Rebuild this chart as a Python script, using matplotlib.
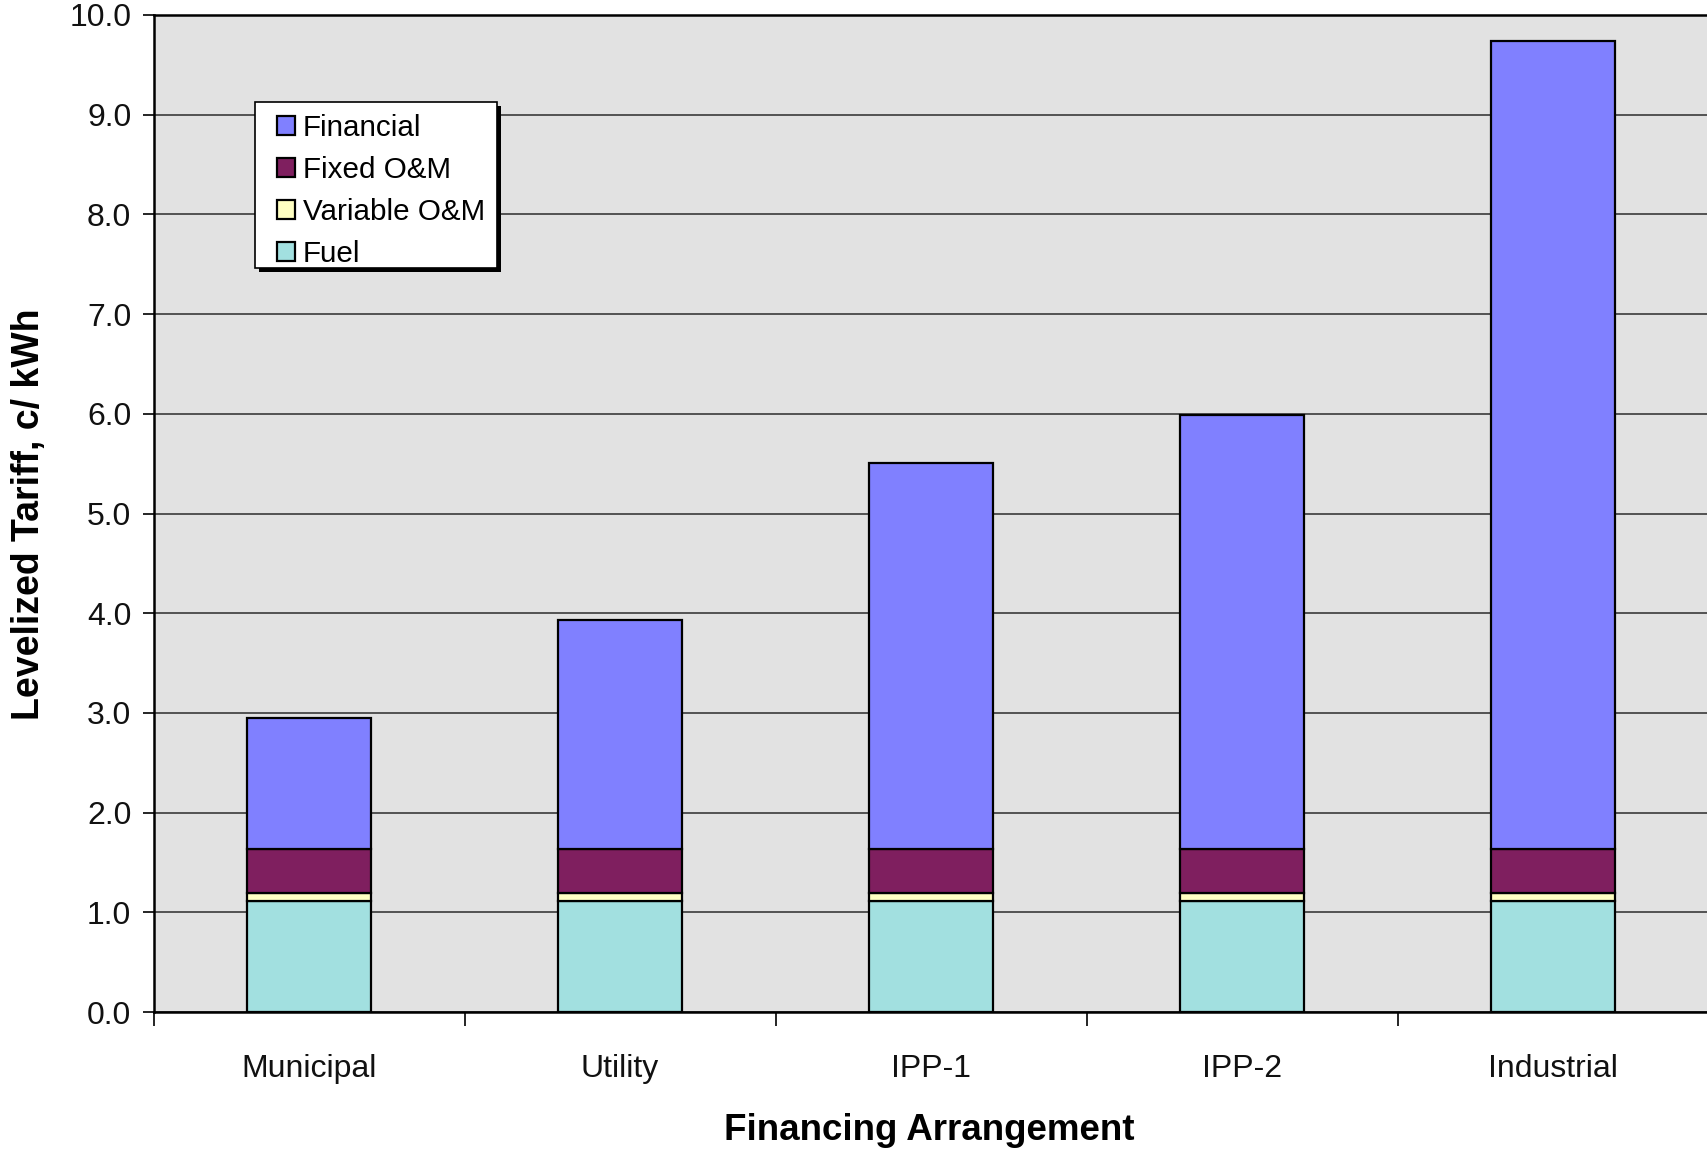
import matplotlib
matplotlib.use("Agg")
import matplotlib.pyplot as plt
from matplotlib.patches import Rectangle
import numpy as np

plt.rcParams['font.family'] = ['Liberation Sans', 'DejaVu Sans']

categories = ["Municipal", "Utility", "IPP-1", "IPP-2", "Industrial"]
fuel = [1.11, 1.11, 1.11, 1.11, 1.11]
variable_om = [0.08, 0.08, 0.08, 0.08, 0.08]
fixed_om = [0.44, 0.44, 0.44, 0.44, 0.44]
financial = [1.32, 2.30, 3.88, 4.36, 8.11]

series = [
    ("Fuel", fuel, "#A2E0E0"),
    ("Variable O&M", variable_om, "#FFFFC2"),
    ("Fixed O&M", fixed_om, "#7F1F5F"),
    ("Financial", financial, "#8080FF"),
]

W, H = 1707, 1154
fig = plt.figure(figsize=(W / 100, H / 100), dpi=100)
ax = fig.add_axes([153.5 / W, 1 - 1012 / H, (1708.5 - 153.5) / W, (1012 - 15) / H])
ax.set_facecolor("#E2E2E2")

x = np.arange(len(categories)) + 0.5
bottom = np.zeros(len(categories))
handles = []
for name, vals, color in series:
    bars = ax.bar(x, vals, width=0.40, bottom=bottom, color=color,
                  edgecolor="black", linewidth=1.6, label=name, zorder=3)
    handles.append(bars)
    bottom += np.array(vals)

ax.set_xlim(0, len(categories))
ax.set_ylim(0, 10)
yt = np.arange(0, 10.01, 1.0)
ax.set_yticks(yt)
ax.set_yticklabels([f"{v:.1f}" for v in yt], fontsize=23, color="#111111")
ax.yaxis.grid(True, color="#3A3A3A", linewidth=1.2, zorder=1)
ax.set_axisbelow(True)

# Category labels centred under bars, ticks at category boundaries
ax.set_xticks(np.arange(len(categories) + 1))
ax.set_xticklabels([])
ax.set_xticks(x, minor=True)
ax.set_xticklabels(categories, minor=True, fontsize=23, color="#111111")
ax.tick_params(axis="x", which="major", direction="out", length=10, width=1.2)
ax.tick_params(axis="x", which="minor", length=0, pad=30)
ax.tick_params(axis="y", direction="out", length=8, width=1.2, pad=8)

for side in ["left", "bottom", "top"]:
    ax.spines[side].set_linewidth(1.8)
    ax.spines[side].set_color("black")
ax.spines["right"].set_visible(False)

fig.text(929 / W, 1 - 1130 / H, "Financing Arrangement", fontsize=26.5,
         fontweight="bold", ha="center", va="center")
fig.text(29 / W, 1 - 514 / H, "Levelized Tariff, c/ kWh", fontsize=27,
         fontweight="bold", ha="center", va="center", rotation=90)

# Legend box with a hard drop shadow
box_l, box_t, box_r, box_b = 255, 102, 497, 268
box_w, box_h = (box_r - box_l) / W, (box_b - box_t) / H
shadow = Rectangle(((box_l + 4) / W, 1 - (box_b + 4) / H), box_w, box_h,
                   transform=fig.transFigure, facecolor="black",
                   edgecolor="none", zorder=4)
frame = Rectangle((box_l / W, 1 - box_b / H), box_w, box_h,
                  transform=fig.transFigure, facecolor="white",
                  edgecolor="black", linewidth=1.2, zorder=4.5)
ax.add_patch(shadow)
ax.add_patch(frame)

leg = ax.legend(handles[::-1], [s[0] for s in series][::-1],
                loc="upper left", bbox_to_anchor=(277 / W, 1 - 114 / H),
                bbox_transform=fig.transFigure, fontsize=21.3, frameon=False,
                handlelength=0.6, handleheight=0.6, handletextpad=0.28,
                labelspacing=0.47, borderpad=0, borderaxespad=0)
leg.set_zorder(5)

fig.savefig("out.png", dpi=100, facecolor="white")
